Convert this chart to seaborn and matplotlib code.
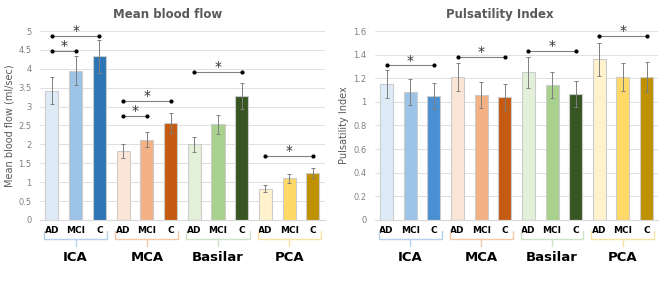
import matplotlib
matplotlib.use("Agg")
import matplotlib.pyplot as plt
import matplotlib.transforms as mtransforms
import seaborn as sns

# groups and subgroups
groups = ["ICA", "MCA", "Basilar", "PCA"]
subgroups = ["AD", "MCI", "C"]
bar_names = [g + " " + s for g in groups for s in subgroups]

# mean blood flow (ml/sec) and error
flow_mean = [3.42, 3.95, 4.33, 1.82, 2.12, 2.57, 2.00, 2.53, 3.28, 0.83, 1.10, 1.25]
flow_err = [0.35, 0.39, 0.44, 0.18, 0.20, 0.26, 0.20, 0.26, 0.34, 0.09, 0.11, 0.13]
flow_sig = [(0, 1, 4.47), (0, 2, 4.88), (3, 4, 2.75), (3, 5, 3.15), (6, 8, 3.92), (9, 11, 1.70)]

# pulsatility index and error
pi_mean = [1.15, 1.08, 1.05, 1.21, 1.06, 1.04, 1.25, 1.14, 1.07, 1.36, 1.21, 1.21]
pi_err = [0.12, 0.11, 0.11, 0.12, 0.11, 0.11, 0.13, 0.11, 0.11, 0.14, 0.12, 0.13]
pi_sig = [(0, 2, 1.31), (3, 5, 1.38), (6, 8, 1.43), (9, 11, 1.56)]

flow_colors = ["#DEEBF7", "#9DC3E6", "#2E75B6", "#FBE5D6", "#F4B183", "#C55A11",
               "#E2F0D9", "#A9D18E", "#375623", "#FFF2CC", "#FFD966", "#BF9000"]
pi_colors = ["#DEEBF7", "#9DC3E6", "#4A8FD2", "#FBE5D6", "#F4B183", "#C55A11",
             "#E2F0D9", "#A9D18E", "#375623", "#FFF2CC", "#FFD966", "#BF9000"]
bracket_colors = ["#B4D0EA", "#F3C6A5", "#CFE3C2", "#F9E2A0"]

sns.set_style("white")
plt.rcParams['font.family'] = ['DejaVu Sans']

fig = plt.figure(figsize=(6.67, 2.82), dpi=100)
ax1 = fig.add_axes([0.060, 0.220, 0.427, 0.670])
ax2 = fig.add_axes([0.562, 0.220, 0.425, 0.670])


def draw_panel(ax, means, errs, colors, sig, ymax, ystep, ylabel, star_off):
    sns.barplot(x=bar_names, y=means, hue=bar_names, hue_order=bar_names, order=bar_names,
                palette=dict(zip(bar_names, colors)), legend=False, ax=ax,
                width=0.55, edgecolor="#cccccc", linewidth=0.8, saturation=1)
    ax.errorbar(range(len(means)), means, yerr=errs, fmt="none", ecolor="#7f7f7f",
                elinewidth=0.7, capsize=1.5, capthick=0.7, zorder=5)
    ax.set_xlim(-0.5, len(means) - 0.5)
    ax.set_ylim(0, ymax)
    ticks = [round(i * ystep, 2) for i in range(int(round(ymax / ystep)) + 1)]
    ax.set_yticks(ticks)
    ax.set_yticklabels(["%g" % t for t in ticks], color="#808080", fontsize=6)
    ax.yaxis.grid(True, color="#e0e0e0", linewidth=0.7)
    ax.set_axisbelow(True)
    for s in ["top", "right", "left"]:
        ax.spines[s].set_visible(False)
    ax.spines["bottom"].set_color("#d9d9d9")
    ax.tick_params(axis="y", length=0, pad=6)
    ax.tick_params(axis="x", length=0, pad=4)
    ax.set_xticks(range(len(means)))
    ax.set_xticklabels(subgroups * len(groups), fontsize=6.5, fontweight="bold", color="black")
    ax.set_ylabel(ylabel, color="#595959", fontsize=7, labelpad=3)

    # group brackets under the tick labels
    trans = mtransforms.blended_transform_factory(ax.transData, ax.transAxes)
    for g, name in enumerate(groups):
        x0 = g * 3 - 0.33
        x1 = g * 3 + 2.33
        xc = g * 3 + 1
        c = bracket_colors[g]
        ax.plot([x0, x0, x1, x1], [-0.058, -0.10, -0.10, -0.058], color=c, lw=1,
                transform=trans, clip_on=False)
        ax.plot([xc, xc], [-0.10, -0.14], color=c, lw=1, transform=trans, clip_on=False)
        ax.text(xc, -0.198, name, transform=trans, ha="center", va="center",
                fontsize=9.5, fontweight="bold", color="black")

    # significance markers
    for i, j, y in sig:
        ax.plot([i, j], [y, y], color="#808080", lw=0.8, zorder=6)
        ax.plot([i, j], [y, y], "o", color="black", markersize=2, zorder=7)
        ax.text((i + j) / 2, y + star_off, "*", ha="center", va="center",
                fontsize=10, color="#333333")


draw_panel(ax1, flow_mean, flow_err, flow_colors, flow_sig, 5, 0.5,
           "Mean blood flow (ml/sec)", 0.13)
draw_panel(ax2, pi_mean, pi_err, pi_colors, pi_sig, 1.6, 0.2,
           "Pulsatility Index", 0.04)

fig.text(0.252, 0.947, "Mean blood flow", ha="center", va="center",
         fontsize=8.5, fontweight="bold", color="#595959")
fig.text(0.750, 0.947, "Pulsatility Index", ha="center", va="center",
         fontsize=8.5, fontweight="bold", color="#595959")

fig.savefig("out.png", dpi=100)
